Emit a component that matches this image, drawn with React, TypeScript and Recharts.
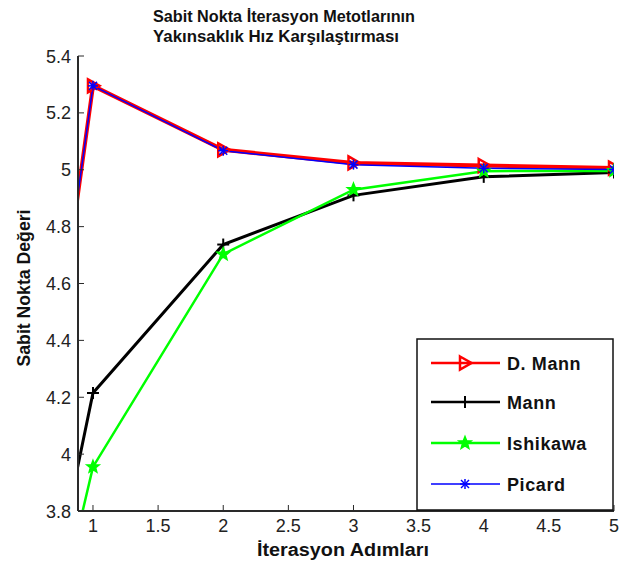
import { Line, LineChart, XAxis, YAxis } from "recharts";

const steps = [0, 1, 2, 3, 4, 5];
const dMann = [2, 5.295, 5.07, 5.024, 5.015, 5.006];
const mann = [2, 4.215, 4.737, 4.91, 4.975, 4.99];
const ishikawa = [2, 3.955, 4.703, 4.93, 4.995, 4.996];
const picard = [2, 5.295, 5.067, 5.018, 5.005, 5.001];

const xTicks = [1, 1.5, 2, 2.5, 3, 3.5, 4, 4.5, 5];
const yTicks = [3.8, 4, 4.2, 4.4, 4.6, 4.8, 5, 5.2, 5.4];

const titleLines = ["Sabit Nokta İterasyon Metotlarının", "Yakınsaklık Hız Karşılaştırması"];
const xLabel = "İterasyon Adımları";
const yLabel = "Sabit Nokta Değeri";

const FONT = '"Liberation Sans", Arial, sans-serif';
const AXIS = "#2a2a2a";

const SERIES = [
  { key: "dMann", name: "D. Mann", color: "#ff0000", width: 4, marker: "tri" },
  { key: "mann", name: "Mann", color: "#000000", width: 3, marker: "plus" },
  { key: "ishikawa", name: "Ishikawa", color: "#00ff00", width: 2.5, marker: "star" },
  { key: "picard", name: "Picard", color: "#0000ff", width: 1.5, marker: "ast" },
];

const data = steps.map((x, i) => ({
  x,
  dMann: dMann[i],
  mann: mann[i],
  ishikawa: ishikawa[i],
  picard: picard[i],
}));

const fmt = (v: number) => String(Number(v.toFixed(1)));

function Marker({ kind, cx, cy, color }: { kind: string; cx: number; cy: number; color: string }) {
  if (kind === "tri") {
    return (
      <polygon
        points={`${cx - 5},${cy - 6.5} ${cx + 6.5},${cy} ${cx - 5},${cy + 6.5}`}
        fill="none"
        stroke={color}
        strokeWidth={2.5}
      />
    );
  }
  if (kind === "plus") {
    return (
      <g stroke={color} strokeWidth={2}>
        <line x1={cx - 6} y1={cy} x2={cx + 6} y2={cy} />
        <line x1={cx} y1={cy - 6} x2={cx} y2={cy + 6} />
      </g>
    );
  }
  if (kind === "star") {
    const pts: string[] = [];
    for (let k = 0; k < 10; k++) {
      const r = k % 2 === 0 ? 6.5 : 2.8;
      const a = -Math.PI / 2 + (k * Math.PI) / 5;
      pts.push(`${cx + r * Math.cos(a)},${cy + r * Math.sin(a)}`);
    }
    return <polygon points={pts.join(" ")} fill={color} stroke={color} strokeWidth={1.5} />;
  }
  return (
    <g stroke={color} strokeWidth={1.5}>
      <line x1={cx - 5} y1={cy} x2={cx + 5} y2={cy} />
      <line x1={cx} y1={cy - 5} x2={cx} y2={cy + 5} />
      <line x1={cx - 4} y1={cy - 4} x2={cx + 4} y2={cy + 4} />
      <line x1={cx - 4} y1={cy + 4} x2={cx + 4} y2={cy - 4} />
    </g>
  );
}

function BottomTick({ x, y, payload }: any) {
  return (
    <g>
      <line x1={x} y1={y} x2={x} y2={y - 6} stroke={AXIS} strokeWidth={1} />
      <text x={x} y={y + 21} textAnchor="middle" fontSize={18} fontFamily={FONT} fill="#222">
        {fmt(payload.value)}
      </text>
    </g>
  );
}

function TopTick({ x, y }: any) {
  return <line x1={x} y1={y} x2={x} y2={y + 6} stroke={AXIS} strokeWidth={1} />;
}

function LeftTick({ x, y, payload }: any) {
  return (
    <g>
      <line x1={x} y1={y} x2={x + 6} y2={y} stroke={AXIS} strokeWidth={1} />
      <text x={x - 7} y={y + 6.5} textAnchor="end" fontSize={18} fontFamily={FONT} fill="#222">
        {fmt(payload.value)}
      </text>
    </g>
  );
}

function RightTick({ x, y }: any) {
  return <line x1={x} y1={y} x2={x - 6} y2={y} stroke={AXIS} strokeWidth={1} />;
}

export default function App() {
  return (
    <div style={{ position: "absolute", left: 0, top: 0, width: 632, height: 567, background: "#fff" }}>
      <LineChart width={632} height={567} data={data} margin={{ top: 56, right: 18, bottom: 0, left: 0 }}>
        <XAxis
          dataKey="x"
          type="number"
          domain={[0.885, 5]}
          ticks={xTicks}
          allowDataOverflow
          height={56}
          tickSize={0}
          tickMargin={0}
          tick={<BottomTick />}
          axisLine={{ stroke: AXIS, strokeWidth: 2 }}
          tickLine={false}
        />
        <XAxis
          xAxisId="top"
          orientation="top"
          dataKey="x"
          type="number"
          domain={[0.885, 5]}
          ticks={xTicks}
          allowDataOverflow
          height={0}
          tickSize={0}
          tickMargin={0}
          tick={<TopTick />}
          axisLine={{ stroke: AXIS, strokeWidth: 2 }}
          tickLine={false}
        />
        <YAxis
          type="number"
          domain={[3.8, 5.4]}
          ticks={yTicks}
          allowDataOverflow
          width={78}
          tickSize={0}
          tickMargin={0}
          tick={<LeftTick />}
          axisLine={{ stroke: AXIS, strokeWidth: 2 }}
          tickLine={false}
        />
        <YAxis
          yAxisId="right"
          orientation="right"
          type="number"
          domain={[3.8, 5.4]}
          ticks={yTicks}
          allowDataOverflow
          width={0}
          tickSize={0}
          tickMargin={0}
          tick={<RightTick />}
          axisLine={{ stroke: AXIS, strokeWidth: 2 }}
          tickLine={false}
        />
        {SERIES.map((s) => (
          <Line
            key={s.key}
            dataKey={s.key}
            type="linear"
            stroke={s.color}
            strokeWidth={s.width}
            isAnimationActive={false}
            dot={(p: any) => (
              <Marker key={`${s.key}-${p.index}`} kind={s.marker} cx={p.cx} cy={p.cy} color={s.color} />
            )}
            activeDot={false}
          />
        ))}
      </LineChart>
      <svg
        width={632}
        height={567}
        style={{ position: "absolute", left: 0, top: 0, pointerEvents: "none" }}
        fontFamily={FONT}
      >
        <text x={284} y={22} textAnchor="middle" fontSize={17} fontWeight="bold" fill="#111" textLength={262} lengthAdjust="spacingAndGlyphs">
          {titleLines[0]}
        </text>
        <text x={276} y={42} textAnchor="middle" fontSize={17} fontWeight="bold" fill="#111" textLength={246} lengthAdjust="spacingAndGlyphs">
          {titleLines[1]}
        </text>
        <text x={343} y={556} textAnchor="middle" fontSize={18} fontWeight="bold" fill="#111" textLength={172} lengthAdjust="spacingAndGlyphs">
          {xLabel}
        </text>
        <text
          x={0}
          y={0}
          transform="translate(30,288) rotate(-90)"
          textAnchor="middle"
          fontSize={18}
          fontWeight="bold"
          fill="#111"
          textLength={157}
          lengthAdjust="spacingAndGlyphs"
        >
          {yLabel}
        </text>
        <rect x={417} y={339} width={196} height={171} fill="#fff" stroke="#111" strokeWidth={1.5} />
        {SERIES.map((s, i) => {
          const cy = [363, 402, 443, 484][i];
          return (
            <g key={s.key}>
              <line x1={431} y1={cy} x2={500} y2={cy} stroke={s.color} strokeWidth={s.key === "picard" ? 1.5 : 2.5} />
              <Marker kind={s.marker} cx={465} cy={cy} color={s.color} />
              <text x={507} y={cy + 7} fontSize={18} fontWeight="bold" fill="#111" letterSpacing={0.6}>
                {s.name}
              </text>
            </g>
          );
        })}
      </svg>
    </div>
  );
}
